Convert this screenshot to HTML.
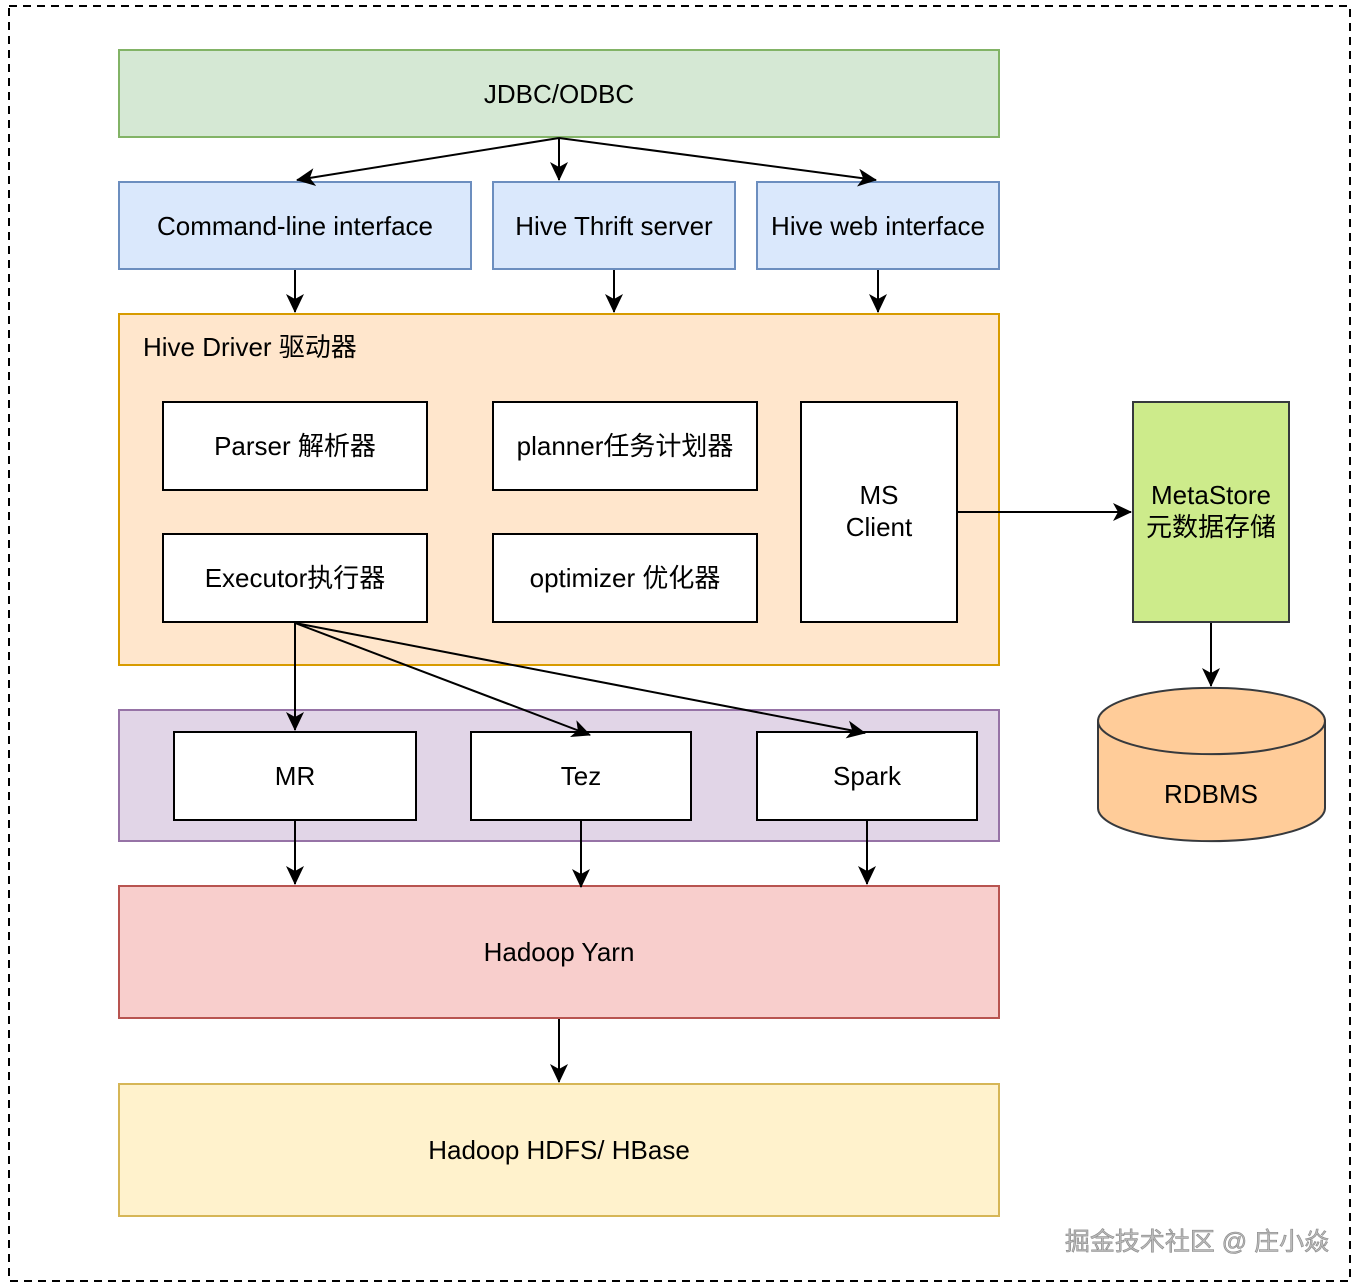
<!DOCTYPE html>
<html><head><meta charset="utf-8"><style>
html,body{margin:0;padding:0;background:#fff;}
svg{display:block;}
text{font-family:"Liberation Sans","Noto Sans CJK SC",sans-serif;font-size:26px;fill:#000;}
</style></head><body>
<svg width="1360" height="1288" viewBox="0 0 1360 1288" xmlns="http://www.w3.org/2000/svg">
<defs>
<marker id="b" viewBox="0 0 20 20" refX="18" refY="10" markerWidth="20" markerHeight="20" markerUnits="userSpaceOnUse" orient="auto">
<path d="M0,1 L19,10 L0,19 L5,10 Z" fill="#000"/>
</marker>
</defs>
<rect x="9" y="6" width="1341" height="1275" fill="none" stroke="#000" stroke-width="2" stroke-dasharray="8,6"/>

<rect x="119" y="50" width="880" height="87" fill="#d5e8d4" stroke="#82b366" stroke-width="2"/>
<text x="559" y="103" text-anchor="middle">JDBC/ODBC</text>

<rect x="119" y="182" width="352" height="87" fill="#dae8fc" stroke="#6c8ebf" stroke-width="2"/>
<text x="295" y="235" text-anchor="middle">Command-line interface</text>
<rect x="493" y="182" width="242" height="87" fill="#dae8fc" stroke="#6c8ebf" stroke-width="2"/>
<text x="614" y="235" text-anchor="middle">Hive Thrift server</text>
<rect x="757" y="182" width="242" height="87" fill="#dae8fc" stroke="#6c8ebf" stroke-width="2"/>
<text x="878" y="235" text-anchor="middle">Hive web interface</text>

<rect x="119" y="314" width="880" height="351" fill="#ffe6cc" stroke="#d79b00" stroke-width="2"/>
<text x="143" y="356">Hive Driver 驱动器</text>
<g fill="#fff" stroke="#000" stroke-width="2">
<rect x="163" y="402" width="264" height="88"/>
<rect x="493" y="402" width="264" height="88"/>
<rect x="163" y="534" width="264" height="88"/>
<rect x="493" y="534" width="264" height="88"/>
<rect x="801" y="402" width="156" height="220"/>
</g>
<text x="295" y="455" text-anchor="middle">Parser 解析器</text>
<text x="625" y="455" text-anchor="middle">planner任务计划器</text>
<text x="295" y="587" text-anchor="middle">Executor执行器</text>
<text x="625" y="587" text-anchor="middle">optimizer 优化器</text>
<text x="879" y="504" text-anchor="middle">MS</text>
<text x="879" y="536" text-anchor="middle">Client</text>

<rect x="1133" y="402" width="156" height="220" fill="#cdeb8b" stroke="#36393d" stroke-width="2"/>
<text x="1211" y="504" text-anchor="middle">MetaStore</text>
<text x="1211" y="536" text-anchor="middle">元数据存储</text>

<path d="M1098,721 L1098,808 A113,33 0 0 0 1325,808 L1325,721 A113,33 0 0 0 1098,721 Z" fill="#ffcc99" stroke="#36393d" stroke-width="2"/>
<path d="M1098,721 A113,33 0 0 0 1325,721" fill="none" stroke="#36393d" stroke-width="2"/>
<text x="1211" y="803" text-anchor="middle">RDBMS</text>

<rect x="119" y="710" width="880" height="131" fill="#e1d5e7" stroke="#9673a6" stroke-width="2"/>
<g fill="#fff" stroke="#000" stroke-width="2">
<rect x="174" y="732" width="242" height="88"/>
<rect x="471" y="732" width="220" height="88"/>
<rect x="757" y="732" width="220" height="88"/>
</g>
<text x="295" y="785" text-anchor="middle">MR</text>
<text x="581" y="785" text-anchor="middle">Tez</text>
<text x="867" y="785" text-anchor="middle">Spark</text>

<rect x="119" y="886" width="880" height="132" fill="#f8cecc" stroke="#b85450" stroke-width="2"/>
<text x="559" y="961" text-anchor="middle">Hadoop Yarn</text>

<rect x="119" y="1084" width="880" height="132" fill="#fff2cc" stroke="#d6b656" stroke-width="2"/>
<text x="559" y="1159" text-anchor="middle">Hadoop HDFS/ HBase</text>

<g stroke="#000" stroke-width="2" fill="none" marker-end="url(#b)">
<line x1="559" y1="138" x2="297" y2="180"/>
<line x1="559" y1="138" x2="559" y2="180"/>
<line x1="559" y1="138" x2="876" y2="180"/>
<line x1="295" y1="270" x2="295" y2="312"/>
<line x1="614" y1="270" x2="614" y2="312"/>
<line x1="878" y1="270" x2="878" y2="312"/>
<line x1="958" y1="512" x2="1131" y2="512"/>
<line x1="1211" y1="623" x2="1211" y2="686"/>
<line x1="295" y1="623" x2="295" y2="730"/>
<line x1="295" y1="623" x2="590" y2="735"/>
<line x1="295" y1="623" x2="865" y2="733"/>
<line x1="295" y1="821" x2="295" y2="884"/>
<line x1="581" y1="821" x2="581" y2="887"/>
<line x1="867" y1="821" x2="867" y2="884"/>
<line x1="559" y1="1019" x2="559" y2="1082"/>
</g>

<text x="1197" y="1250" text-anchor="middle" style="font-size:25px;fill:#bbb;stroke:#888;stroke-width:0.6">掘金技术社区 @ 庄小焱</text>
</svg>
</body></html>
